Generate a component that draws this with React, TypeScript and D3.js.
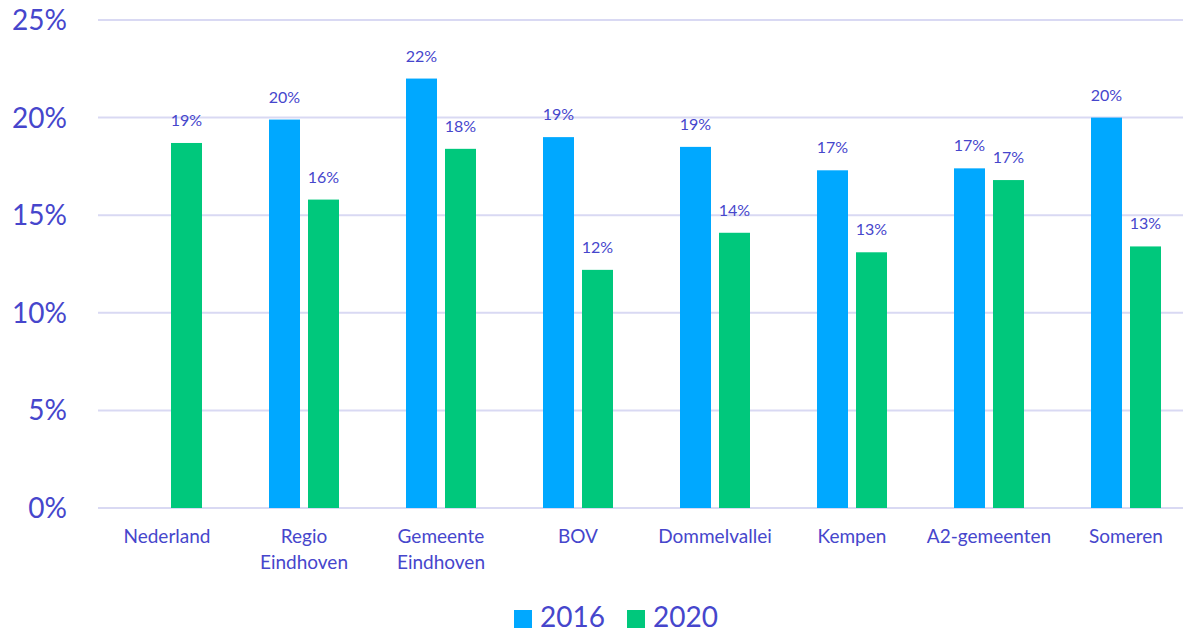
import React from "react";
import * as d3 from "d3";

const categories = [
  "Nederland",
  "Regio\nEindhoven",
  "Gemeente\nEindhoven",
  "BOV",
  "Dommelvallei",
  "Kempen",
  "A2-gemeenten",
  "Someren",
];
const seriesNames = ["2016", "2020"];
const values2016: (number | null)[] = [null, 19.9, 22.0, 19.0, 18.5, 17.3, 17.4, 20.0];
const values2020: (number | null)[] = [18.7, 15.8, 18.4, 12.2, 14.1, 13.1, 16.8, 13.4];
const yTicks = [0, 5, 10, 15, 20, 25];
const colors = ["#00A8FF", "#00C87C"];

const W = 1183;
const H = 632;
const TEXT = "#4646CC";
const FONT = "Lato, 'Open Sans', sans-serif";

export default function App() {
  const x0 = d3.scaleBand<string>().domain(categories).range([98.5, 98.5 + 137 * 8]).paddingInner(0).paddingOuter(0);
  const y = d3.scaleLinear().domain([0, 25]).range([508, 20]);
  const series = [values2016, values2020];

  return (
    <svg width={W} height={H} style={{ position: "absolute", left: 0, top: 0, background: "#fff" }} fontFamily={FONT}>
      {yTicks.map((t) => (
        <g key={t}>
          <line x1={98} x2={W} y1={y(t)} y2={y(t)} stroke="#D9D9F3" strokeWidth={2} />
          <text x={67} y={y(t) + 10} textAnchor="end" fontSize={28} fill={TEXT}>
            {t}%
          </text>
        </g>
      ))}
      {categories.map((c, i) => {
        const cx = (x0(c) as number) + x0.bandwidth() / 2;
        const x1 = d3.scaleBand<string>().domain(seriesNames).range([cx - 35, cx + 35]).paddingInner(8 / 39).paddingOuter(0);
        const lines = c.split("\n");
        return (
          <g key={c}>
            {series.map((vals, si) => {
              const v = vals[i];
              if (v == null) return null;
              const bx = x1(seriesNames[si]) as number;
              const bw = x1.bandwidth();
              return (
                <g key={si}>
                  <rect x={bx} y={y(v)} width={bw} height={y(0) - y(v)} fill={colors[si]} />
                  <text x={bx + bw / 2} y={y(v) - 17} textAnchor="middle" fontSize={16} fill={TEXT}>
                    {Math.round(v)}%
                  </text>
                </g>
              );
            })}
            {lines.map((l, li) => (
              <text key={li} x={cx} y={543 + li * 26} textAnchor="middle" fontSize={19} fill={TEXT}>
                {l}
              </text>
            ))}
          </g>
        );
      })}
      {seriesNames.map((s, si) => {
        const lx = si === 0 ? 514 : 627;
        return (
          <g key={s}>
            <rect x={lx} y={610} width={18} height={18} fill={colors[si]} />
            <text x={lx + 26} y={627} fontSize={28} fill={TEXT}>
              {s}
            </text>
          </g>
        );
      })}
    </svg>
  );
}
